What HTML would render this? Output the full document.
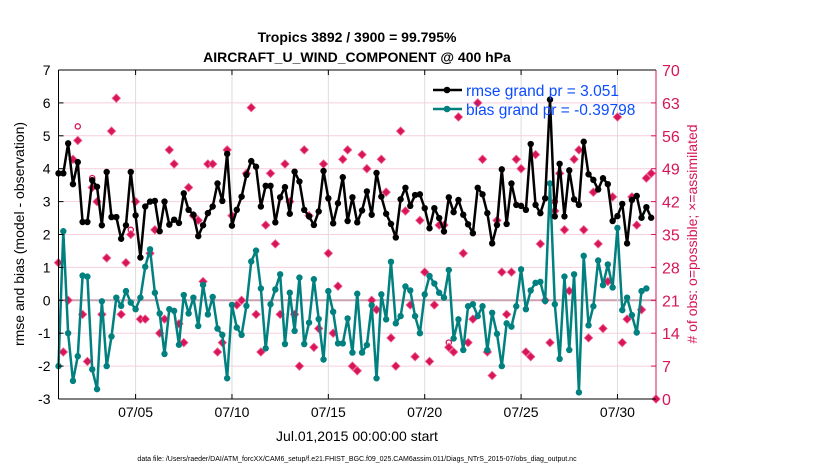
<!DOCTYPE html>
<html><head><meta charset="utf-8">
<style>
html,body{margin:0;padding:0;background:#fff;}
svg{display:block;font-family:"Liberation Sans",Arial,sans-serif;}
</style></head>
<body>
<svg id="chart" width="830" height="470" viewBox="0 0 830 470" xmlns="http://www.w3.org/2000/svg">
<g id="grid"></g>
<g id="marks"></g>
<g id="axes"></g>
<text x="357" y="42" text-anchor="middle" font-size="14" font-weight="bold">Tropics 3892 / 3900 = 99.795%</text>
<text x="357" y="62" text-anchor="middle" font-size="14" font-weight="bold">AIRCRAFT_U_WIND_COMPONENT @ 400 hPa</text>
<text transform="translate(24,234) rotate(-90)" text-anchor="middle" font-size="14">rmse and bias (model - observation)</text>
<text transform="translate(697,234) rotate(-90)" text-anchor="middle" font-size="14" fill="#d6155a"># of obs: o=possible; ×=assimilated</text>
<text x="357" y="441" text-anchor="middle" font-size="14">Jul.01,2015 00:00:00 start</text>
<text x="357" y="461" text-anchor="middle" font-size="7">data file: /Users/raeder/DAI/ATM_forcXX/CAM6_setup/f.e21.FHIST_BGC.f09_025.CAM6assim.011/Diags_NTrS_2015-07/obs_diag_output.nc</text>
<g>
<line x1="433" y1="90" x2="462" y2="90" stroke="#000" stroke-width="2.5"/>
<circle cx="447" cy="90" r="3.3" fill="#000"/>
<text x="466" y="96" font-size="15.5" fill="#0a4cff">rmse grand pr = 3.051</text>
<line x1="433" y1="109" x2="462" y2="109" stroke="#00807f" stroke-width="2.5"/>
<circle cx="447" cy="109" r="3.3" fill="#00807f"/>
<text x="466" y="115" font-size="15.5" fill="#0a4cff">bias grand pr = -0.39798</text>
</g>
</svg>
<script>
const rmse=[3.86,3.86,4.77,3.53,4.2,2.38,2.38,3.65,3.45,2.28,3.9,2.53,2.53,1.87,2.28,3.9,2.58,1.3,2.85,3.0,3.02,2.1,3.0,2.3,2.45,2.35,3.25,2.75,2.6,1.95,2.28,2.65,
2.85,3.55,3.02,4.45,2.27,2.75,3.15,3.81,4.23,4.06,2.85,3.48,3.48,2.37,3.13,3.44,2.63,3.91,3.61,2.75,2.55,2.29,2.7,3.93,3.1,2.34,2.95,3.74,2.41,3.13,2.37,
2.73,3.31,2.6,3.87,3.15,2.63,2.32,1.91,3.07,3.42,2.87,3.2,3.22,2.8,2.19,2.8,2.5,2.09,3.13,2.68,3.05,2.6,2.31,2.04,3.42,3.22,2.65,1.73,2.29,3.98,2.32,
3.55,2.9,2.87,2.75,4.75,2.9,2.65,3.1,6.1,2.55,4.15,2.55,3.95,3.07,2.9,4.82,3.83,3.66,3.37,3.71,3.53,2.41,2.56,2.93,1.73,3.05,3.17,2.51,2.83,2.51];
const bias=[-2.0,2.1,-1.0,-2.45,-1.7,0.75,0.72,-2.1,-2.7,-0.03,-2.0,-1.1,0.08,-0.17,0.28,-0.07,-0.27,0.08,1.02,1.55,0.23,-0.4,-1.63,-0.27,-0.32,-1.35,0.16,-0.4,0.08,-0.78,0.47,-0.43,
0.1,-0.86,-1.05,-2.37,-0.14,-0.83,-1.05,-0.17,1.18,1.51,0.36,-1.46,-0.12,0.33,0.79,-1.33,0.23,-0.93,0.69,-1.33,-0.68,0.64,-0.57,-1.8,0.28,-0.35,-1.31,-1.31,-0.55,-1.59,0.2,
-1.59,-1.36,-0.15,-2.37,0.18,-0.58,1.17,-0.7,-0.48,0.42,0.3,-0.48,-1.0,0.18,0.74,0.51,0.23,0.08,0.92,-1.16,-0.58,-1.51,-0.18,-0.12,-0.48,-0.18,-1.51,-0.38,-1.02,-2.0,-0.7,
-0.8,-0.18,0.94,-0.27,0.3,0.53,0.56,-0.02,3.55,-0.12,-1.78,0.72,-1.51,0.79,-2.8,1.35,-0.76,-0.18,1.21,0.46,1.09,0.39,2.2,-0.3,0.08,-0.45,-0.98,0.28,0.36];
const assim=[29,10,21,51,55,18,8,45,42,18,30,57,64,18,29,35,42,17,17,31,36,14,17,53,50,16,12,45,39,38,25,50,
50,10,12,53,39,20,21,48,62,18,10,37,48,33,18,50,42,18,7,53,39,11,15,50,31,14,24,51,53,7,6,
52,49,21,19,51,44,13,7,57,40,20,9,38,27,8,20,37,37,11,10,60,31,12,17,63,51,10,5,38,27,18,
27,51,49,10,9,52,33,21,12,40,48,36,23,51,53,36,13,44,33,15,25,43,60,12,17,43,37,19,47,48,0];
const possible=[29,10,21,51,58,18,8,47,42,18,30,57,64,18,29,36,42,17,17,31,36,14,17,53,50,16,12,45,39,38,25,50,
50,10,12,53,39,20,21,48,62,18,10,37,48,33,18,50,42,18,7,53,39,11,15,50,31,14,24,51,53,7,6,
52,49,21,19,51,44,13,7,57,40,20,9,38,27,8,20,37,37,12,10,60,31,12,17,63,51,10,5,38,27,18,
27,51,49,10,9,52,33,21,12,42,48,36,23,51,53,36,13,44,33,15,25,43,60,12,17,43,37,19,47,48,0];
const xTickDays=[4,9,14,19,24,29];
const xTickLabels=["07/05","07/10","07/15","07/20","07/25","07/30"];
const yTicks=[7,6,5,4,3,2,1,0,-1,-2,-3];
const y2Ticks=[0,7,14,21,28,35,42,49,56,63,70];

const NS="http://www.w3.org/2000/svg";
const L=58.5,R=656,T=70,B=399;
const X=d=>L+(d/31)*(R-L);
const Y=v=>T+(7-v)/10*(B-T);
const Y2=c=>T+(70-c)/70*(B-T);
function mk(tag,parent,attrs){const e=document.createElementNS(NS,tag);for(const k in attrs)e.setAttribute(k,attrs[k]);parent.appendChild(e);return e;}
const grid=document.getElementById('grid'),marks=document.getElementById('marks'),axes=document.getElementById('axes');

yTicks.forEach(v=>{
  const g=mk('line',grid,{x1:L,x2:R,y1:Y(v),y2:Y(v),stroke:v===0?'#c9a3b2':'#f6cfdd','stroke-width':v===0?2:1});
  
  
  const t=mk('text',axes,{x:L-8,y:Y(v)+5,'text-anchor':'end','font-size':14});
  t.textContent=String(v);
  
  
  mk('line',axes,{x1:L,x2:L+5,y1:Y(v),y2:Y(v),stroke:'#000'});
});
xTickDays.forEach((d,i)=>{
  const g=mk('line',grid,{x1:X(d),x2:X(d),y1:T,y2:B,stroke:'#dcdcdc','stroke-width':1});
  
  
  mk('line',axes,{x1:X(d),x2:X(d),y1:B,y2:B-5,stroke:'#000'});
  mk('line',axes,{x1:X(d),x2:X(d),y1:T,y2:T+5,stroke:'#000'});
  const t=mk('text',axes,{x:X(d),y:B+18,'text-anchor':'middle','font-size':14});
  t.textContent=xTickLabels[i];
  
  
});
y2Ticks.forEach(c=>{
  mk('line',axes,{x1:R,x2:R-5,y1:Y2(c),y2:Y2(c),stroke:'#d6155a'});
  const t=mk('text',axes,{x:R+6,y:Y2(c)+6,'font-size':16,fill:'#d6155a'});
  t.textContent=String(c);
  
  
});
mk('line',axes,{x1:L,x2:R,y1:T,y2:T,stroke:'#000'});
mk('line',axes,{x1:L,x2:R,y1:B,y2:B,stroke:'#000'});
mk('line',axes,{x1:L,x2:L,y1:T,y2:B,stroke:'#000'});
mk('line',axes,{x1:R,x2:R,y1:T,y2:B,stroke:'#d6155a'});

// obs markers
possible.forEach((c,i)=>{
  const x=X(i*0.25);
  if(c!==assim[i]){
    const o=mk('circle',marks,{cx:x,cy:Y2(c),r:2.6,fill:'none',stroke:'#d6155a','stroke-width':1.3});
    
    
  }
});
assim.forEach((c,i)=>{
  const x=X(i*0.25),y=Y2(c);
  const p=mk('path',marks,{d:`M${x-4.2},${y}L${x},${y-4.2}L${x+4.2},${y}L${x},${y+4.2}Z`,fill:'#d6155a',stroke:'#f06090','stroke-width':0.8});
  
  
});
function series(vals,color,name){
  const pts=vals.map((v,i)=>X(i*0.25)+','+Y(v)).join(' ');
  const pl=mk('polyline',marks,{points:pts,fill:'none',stroke:color,'stroke-width':2.5,'stroke-linejoin':'round'});
  
  
  vals.forEach((v,i)=>{
    const c=mk('circle',marks,{cx:X(i*0.25),cy:Y(v),r:3.2,fill:color});
    
    
  });
}
series(bias,'#00807f','bias');
series(rmse,'#000000','rmse');
</script>
</body></html>
